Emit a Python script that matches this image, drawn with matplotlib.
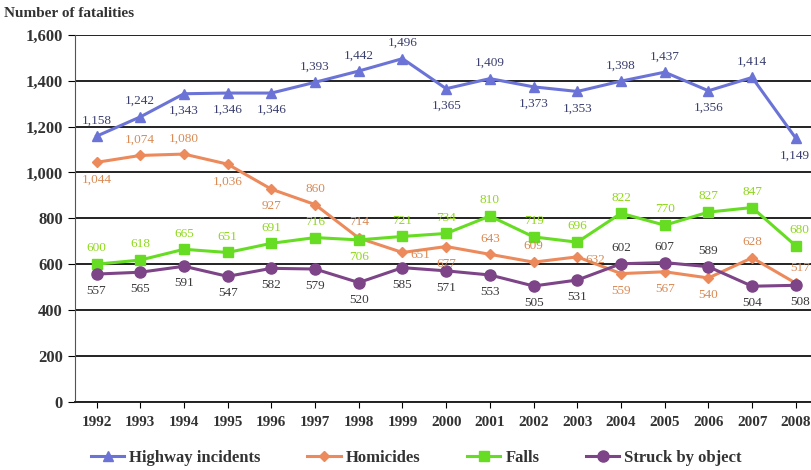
import matplotlib
matplotlib.use('Agg')
import matplotlib.pyplot as plt
import numpy as np

years = [str(y) for y in range(1992, 2009)]
highway = [1158, 1242, 1343, 1346, 1346, 1393, 1442, 1496, 1365, 1409, 1373, 1353, 1398, 1437, 1356, 1414, 1149]
homicides = [1044, 1074, 1080, 1036, 927, 860, 714, 651, 677, 643, 609, 632, 559, 567, 540, 628, 517]
falls = [600, 618, 665, 651, 691, 716, 706, 721, 734, 810, 719, 696, 822, 770, 827, 847, 680]
struck = [557, 565, 591, 547, 582, 579, 520, 585, 571, 553, 505, 531, 602, 607, 589, 504, 508]
yticks = [0, 200, 400, 600, 800, 1000, 1200, 1400, 1600]

# label placement: a = above, b = below, r = right
place_highway = list('aabbbaaababbaabab')
place_homicides = list('baabbaarbaarbbbaa')
place_falls = list('aaaaaabaaaaaaaaaa')
place_struck = list('bbbbbbbbbbbbaaabb')

plt.rcParams['font.family'] = ['Liberation Serif', 'DejaVu Serif']

fig = plt.figure(figsize=(8.12, 4.70), dpi=100)
ax = fig.add_axes([0.092, 0.145, 0.915, 0.781])

x = np.arange(len(years))
series = [
    ('Highway incidents', highway, '#6b74d6', '^', 7, place_highway, '#3a3f6e'),
    ('Homicides', homicides, '#ec8a5c', 'D', 5, place_homicides, '#d98a55'),
    ('Falls', falls, '#66dd22', 's', 6.5, place_falls, '#8fd81a'),
    ('Struck by object', struck, '#7d4488', 'o', 8, place_struck, '#3a3a3a'),
]
for name, vals, col, mk, ms, pl, tcol in series:
    ax.plot(x, vals, color=col, marker=mk, markersize=ms, linewidth=2.2, label=name, zorder=3)
    for xi, v, p in zip(x, vals, pl):
        if p == 'r':
            dx, dy, ha, va = 6, -2, 'left', 'center'
        else:
            dy = 7 if p == 'a' else -8
            va = 'bottom' if p == 'a' else 'top'
            ha = 'right' if xi == len(years) - 1 else 'center'
            dx = 10 if ha == 'right' else 0
        ax.annotate(f'{v:,}', (xi, v), xytext=(dx, dy), textcoords='offset points',
                    ha=ha, va=va, fontsize=9.5, color=tcol, zorder=4)

ax.set_xlim(-0.5, len(years) - 0.5)
ax.set_ylim(0, 1600)
ax.set_yticks(yticks)
ax.set_yticklabels([f'{v:,}' for v in yticks], fontsize=12, fontweight='bold', color='#333333')
ax.set_xticks(x)
ax.set_xticklabels(years, fontsize=11, fontweight='bold', color='#333333')
ax.grid(axis='y', color='#222222', linewidth=1.4)
ax.set_axisbelow(True)
for s in ['top', 'right']:
    ax.spines[s].set_visible(False)
ax.spines['left'].set_color('#555555')
ax.spines['bottom'].set_color('#222222')
ax.spines['bottom'].set_linewidth(1.4)
ax.tick_params(axis='x', length=4, pad=6)
ax.tick_params(axis='y', length=5)

fig.text(0.005, 0.985, 'Number of fatalities', fontsize=11, fontweight='bold', color='#333333', va='top')

leg = ax.legend(loc='upper center', bbox_to_anchor=(0.46, -0.09), ncol=4, frameon=False,
                prop={'size': 12, 'weight': 'bold'}, handlelength=2.0, columnspacing=2.8, handletextpad=0.3)
for t in leg.get_texts():
    t.set_color('#333333')

fig.savefig('out.png', dpi=100)
